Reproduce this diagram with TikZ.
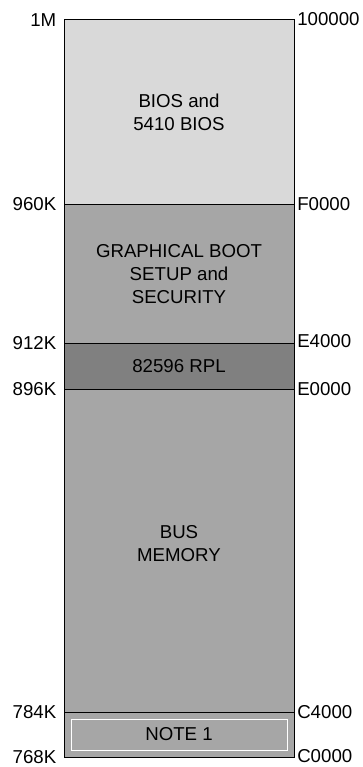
\documentclass[tikz,border=0pt]{standalone}
\usepackage{fontspec}
\setmainfont{Liberation Sans}
\definecolor{lightg}{HTML}{D9D9D9}
\definecolor{midg}{HTML}{A6A6A6}
\definecolor{darkg}{HTML}{808080}
\begin{document}
\begin{tikzpicture}[x=0.75pt,y=-0.75pt,
  region/.style={draw=black,line width=0.75pt},
  lbl/.style={font=\fontsize{14}{16}\selectfont,inner sep=0pt},
  leftlbl/.style={lbl,anchor=east},
  rightlbl/.style={lbl,anchor=west},
  inside/.style={font=\fontsize{14}{17.5}\selectfont,align=center,inner sep=0pt}]
\useasboundingbox (0,0) rectangle (363,767);
\fill[lightg] (64,20) rectangle (294,204);
\fill[midg] (64,204) rectangle (294,343);
\fill[darkg] (64,343) rectangle (294,389);
\fill[midg] (64,389) rectangle (294,757);
\draw[region] (64,204) -- (294,204);
\draw[region] (64,343) -- (294,343);
\draw[region] (64,389) -- (294,389);
\draw[region] (64,712) -- (294,712);
\draw[region] (64,20) rectangle (294,757);
\draw[white,line width=0.75pt] (71,719) rectangle (287,750);
% inner texts
\node[inside] (bios) at (179,112) {BIOS and\\5410 BIOS};
\node[inside] (gfx) at (179,274) {GRAPHICAL BOOT\\SETUP and\\SECURITY};
\node[inside] (rpl) at (179,366) {82596 RPL};
\node[inside] (bus) at (179,543.5) {BUS\\MEMORY};
\node[inside] (note) at (179,734.5) {NOTE 1};
% left labels
\node[leftlbl] (l1) at (56.5,20) {1M};
\node[leftlbl] (l2) at (56.5,204) {960K};
\node[leftlbl] (l3) at (56.5,343) {912K};
\node[leftlbl] (l4) at (56.5,389) {896K};
\node[leftlbl] (l5) at (56.5,712) {784K};
\node[leftlbl] (l6) at (56.5,757) {768K};
% right labels
\node[rightlbl] (r1) at (297,19) {100000};
\node[rightlbl] (r2) at (297,204) {F0000};
\node[rightlbl] (r3) at (297,341) {E4000};
\node[rightlbl] (r4) at (297,389) {E0000};
\node[rightlbl] (r5) at (297,712) {C4000};
\node[rightlbl] (r6) at (297,756) {C0000};
\end{tikzpicture}
\end{document}
